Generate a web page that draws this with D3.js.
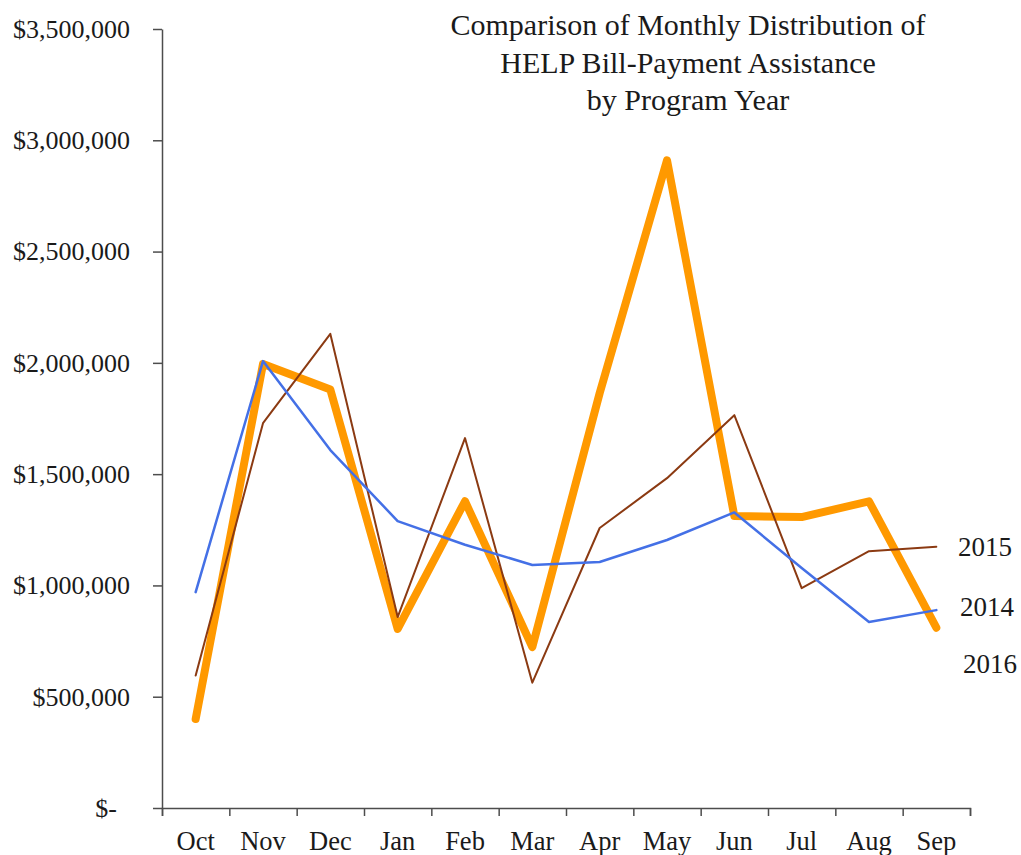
<!DOCTYPE html>
<html>
<head>
<meta charset="utf-8">
<script src="https://cdn.jsdelivr.net/npm/d3@7"></script>
<style>
  body { margin: 0; background: #fff; }
  text { font-family: "Liberation Serif", "Times New Roman", serif; fill: #1a1a1a; }
</style>
</head>
<body>
<div id="chart"></div>
<script>
// data
const months = ["Oct", "Nov", "Dec", "Jan", "Feb", "Mar", "Apr", "May", "Jun", "Jul", "Aug", "Sep"];
const values2014 = [970000, 2008000, 1608000, 1289000, 1183000, 1092000, 1105000, 1204000, 1328000, 1078000, 836000, 889000];
const values2015 = [595000, 1729000, 2130000, 858000, 1662000, 563000, 1258000, 1482000, 1765000, 988000, 1154000, 1174000];
const values2016 = [400000, 1995000, 1880000, 805000, 1378000, 723000, 1864000, 2910000, 1312000, 1307000, 1378000, 810000];
const seriesNames = ["2015", "2014", "2016"];
const yTicks = [0, 500000, 1000000, 1500000, 2000000, 2500000, 3000000, 3500000];
const titleLines = ["Comparison of Monthly Distribution of", "HELP Bill-Payment Assistance", "by Program Year"];

const width = 1021, height = 855;
const plotLeft = 162, plotRight = 970, plotTop = 29, plotBottom = 808;

const svg = d3.select("#chart").append("svg")
    .attr("width", width).attr("height", height);

const x = d3.scaleBand().domain(months).range([plotLeft, plotRight]);
const xEdges = d3.scaleLinear().domain([0, months.length]).range([plotLeft, plotRight]);
const y = d3.scaleLinear().domain([0, 3500000]).range([plotBottom, plotTop]);

const fmt = d => d === 0 ? "$-  " : "$" + d3.format(",")(d);

// y axis
const yAxis = svg.append("g").attr("transform", `translate(${plotLeft},0)`)
    .call(d3.axisLeft(y).tickValues(yTicks).tickFormat(fmt).tickSize(9).tickSizeOuter(0).tickPadding(23));
yAxis.attr("font-family", null).attr("font-size", null);
yAxis.selectAll("text").style("font-size", "26px").style("white-space", "pre");

// x axis: boundary ticks + month labels
const xAxis = svg.append("g").attr("transform", `translate(0,${plotBottom})`)
    .call(d3.axisBottom(xEdges).ticks(months.length).tickFormat("").tickSize(8).tickSizeOuter(8));
const xLabels = svg.append("g").attr("transform", `translate(0,${plotBottom})`)
    .call(d3.axisBottom(x).tickSize(0).tickPadding(23));
xLabels.attr("font-family", null).attr("font-size", null);
xLabels.select(".domain").remove();
xLabels.selectAll("text").style("font-size", "26.5px");

svg.selectAll(".domain, .tick line").attr("stroke", "#4d4d4d").attr("stroke-width", 1.5);
svg.selectAll(".tick text").attr("fill", "#1a1a1a");

// lines
const line = d3.line().x((d, i) => x(months[i]) + x.bandwidth() / 2).y(d => y(d));

const series = [
    { name: "2015", values: values2015, color: "#8b3a12", width: 2, nudge: 0 },
    { name: "2014", values: values2014, color: "#4470e6", width: 2.5, nudge: -4 },
    { name: "2016", values: values2016, color: "#ff9900", width: 8, nudge: 36 }
];

const drawOrder = [series[2], series[0], series[1]];
svg.append("g").selectAll("path").data(drawOrder).enter().append("path")
    .attr("d", s => line(s.values))
    .attr("fill", "none")
    .attr("stroke", s => s.color)
    .attr("stroke-width", s => s.width)
    .attr("stroke-linecap", "round")
    .attr("stroke-linejoin", "round");

// series labels next to last point
svg.append("g").selectAll("text").data(series).enter().append("text")
    .attr("x", (s, i) => plotRight - 12 + [0, 2, 5][i])
    .attr("y", s => y(s.values[s.values.length - 1]) + s.nudge)
    .attr("dy", "0.35em")
    .style("font-size", "27px")
    .text((s, i) => seriesNames[i]);

// title
svg.append("g").selectAll("text").data(titleLines).enter().append("text")
    .attr("x", 688)
    .attr("y", (d, i) => 35 + i * 37.5)
    .attr("text-anchor", "middle")
    .style("font-size", "30px")
    .text(d => d);
</script>
</body>
</html>
